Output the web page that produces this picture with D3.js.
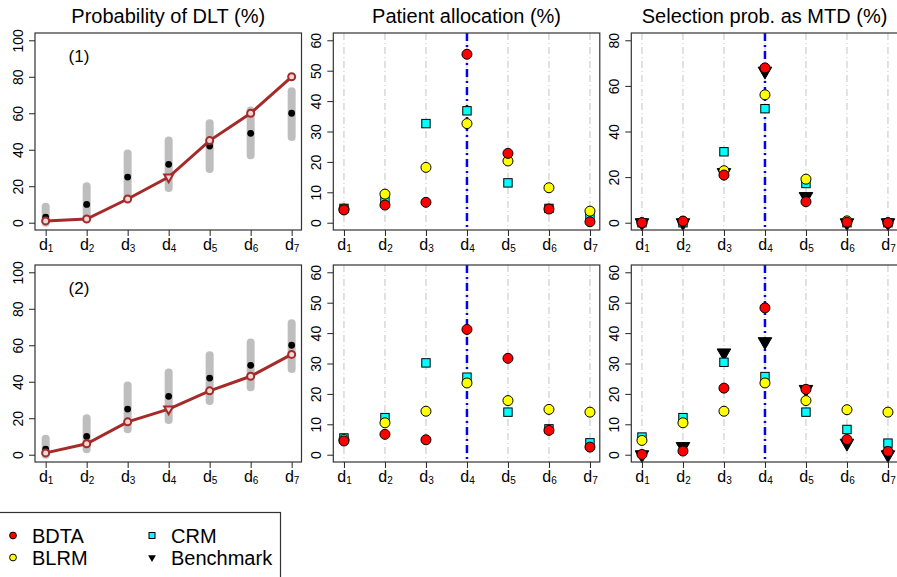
<!DOCTYPE html>
<html>
<head>
<meta charset="utf-8">
<script src="https://cdn.jsdelivr.net/npm/d3@7"></script>
<style>
body { margin: 0; background: #fff; }
svg { display: block; font-family: "Liberation Sans", Arial, Helvetica, sans-serif; }
</style>
</head>
<body>
<div id="chart"></div>
<script>
var width  = 897;
var height = 577;

// doses and target (MTD)
var doses      = [1, 2, 3, 4, 5, 6, 7];
var targetDose = 4;

// probability of DLT: prior intervals, prior point, true toxicity per scenario
var dltLow   = [0, 3, 14, 19, 29.5, 37, 47];
var dltHigh  = [8.7, 20, 38, 45, 54.5, 61.5, 72];
var dltPoint = [3, 10, 25, 32, 42, 49, 60];
var trueTox1 = [1, 2, 13, 25, 45, 60, 80];
var trueTox2 = [1, 6, 18, 25, 35, 43, 55];

// patient allocation (%)
var alloc1BDTA = [4.2, 5.8, 6.7, 55.4, 22.8, 4.5, 0.3];
var alloc1BLRM = [4.5, 9.4, 18.2, 32.6, 20.3, 11.5, 3.8];
var alloc1CRM  = [4.7, 7.4, 32.6, 36.8, 13.1, 4.7, 2.2];
var alloc2BDTA = [4.5, 6.7, 4.9, 41.2, 31.7, 8.0, 2.5];
var alloc2BLRM = [5.0, 10.5, 14.3, 23.6, 17.8, 14.9, 14.0];
var alloc2CRM  = [5.5, 12.2, 30.2, 25.5, 14.0, 8.5, 3.9];

// selection probability as MTD (%)
var sel1BDTA  = [0, 0.7, 20.9, 67.9, 9.2, 0.2, 0];
var sel1BLRM  = [0, 0.5, 22.8, 56.1, 19.1, 0.8, 0];
var sel1CRM   = [0, 0, 31.1, 50.0, 17.2, 0, 0];
var sel1Bench = [0, 0, 22.0, 66.5, 11.5, 0, 0];
var sel2BDTA  = [0.1, 1.2, 21.9, 48.3, 21.5, 5.0, 1.1];
var sel2BLRM  = [4.7, 10.5, 14.3, 23.6, 17.8, 14.8, 14.0];
var sel2CRM   = [5.8, 12.2, 30.4, 25.7, 14.0, 8.3, 3.8];
var sel2Bench = [0, 2.7, 33.5, 37.2, 21.5, 3.8, 0];

var titles      = ["Probability of DLT (%)", "Patient allocation (%)", "Selection prob. as MTD (%)"];
var scenarios   = ["(1)", "(2)"];
var dltTicks    = [0, 20, 40, 60, 80, 100];
var allocTicks  = [0, 10, 20, 30, 40, 50, 60];
var sel1Ticks   = [0, 20, 40, 60, 80];
var sel2Ticks   = [0, 10, 20, 30, 40, 50, 60];

var methods = ["BDTA", "BLRM", "CRM", "Benchmark"];
var fills   = {BDTA: "#ff0000", BLRM: "#ffff00", CRM: "#00ffff", Benchmark: "#000000"};

var panelLeft = [35, 333.3, 631.3];
var panelTop  = [33, 265];
var panelW = 266.5;
var panelH = 197;
var brown = "#a52a2a";

var svg = d3.select("#chart")
    .append("svg")
    .attr("width", width)
    .attr("height", height);

function makeX(col) {
    return d3.scaleLinear()
        .domain([0.74, 7.24])
        .range([panelLeft[col], panelLeft[col] + panelW]);
}

function makeY(row, max) {
    return d3.scaleLinear()
        .domain([-0.04 * max, 1.04 * max])
        .range([panelTop[row] + panelH, panelTop[row]]);
}

function drawFrame(g, x, y, ticks, row) {
    var xAxis = d3.axisBottom(x).tickValues(doses).tickSize(6).tickSizeOuter(0);
    var yAxis = d3.axisLeft(y).tickValues(ticks).tickSize(6).tickSizeOuter(0);

    var gx = g.append("g")
        .attr("transform", "translate(0," + (panelTop[row] + panelH) + ")")
        .call(xAxis);
    gx.select(".domain").remove();
    gx.selectAll(".tick line").attr("stroke", "#222");
    gx.selectAll(".tick text")
        .text(null)
        .attr("y", 20)
        .attr("dy", 0)
        .attr("fill", "#000")
        .attr("font-size", 16)
        .attr("font-family", null)
        .each(function(d) {
            var t = d3.select(this);
            t.append("tspan").text("d");
            t.append("tspan").attr("font-size", 10).attr("dy", 2).text(d);
        });

    var gy = g.append("g")
        .attr("transform", "translate(" + x.range()[0] + ",0)")
        .call(yAxis);
    gy.select(".domain").remove();
    gy.selectAll(".tick line").attr("stroke", "#222");
    gy.selectAll(".tick text")
        .attr("x", 0)
        .attr("dy", 0)
        .attr("fill", "#000")
        .attr("font-size", 14)
        .attr("font-family", null)
        .attr("text-anchor", "middle")
        .attr("transform", "translate(-12,0) rotate(-90)");

    g.append("rect")
        .attr("x", x.range()[0])
        .attr("y", panelTop[row])
        .attr("width", panelW)
        .attr("height", panelH)
        .attr("fill", "none")
        .attr("stroke", "#333")
        .attr("stroke-width", 1.2);
}

function drawGrid(g, x, row) {
    g.selectAll(".grid")
        .data(doses)
        .enter().append("line")
        .attr("x1", function(d) { return x(d); })
        .attr("x2", function(d) { return x(d); })
        .attr("y1", panelTop[row])
        .attr("y2", panelTop[row] + panelH)
        .attr("stroke", "#c4c4c4")
        .attr("stroke-width", 1)
        .attr("stroke-dasharray", "7,3,1,3");

    g.append("line")
        .attr("x1", x(targetDose))
        .attr("x2", x(targetDose))
        .attr("y1", panelTop[row])
        .attr("y2", panelTop[row] + panelH)
        .attr("stroke", "#0000ff")
        .attr("stroke-width", 2.5)
        .attr("stroke-dasharray", "8,4,2,4");
}

function drawMarkers(g, x, y, method, values) {
    var pts = values.map(function(v, i) { return {dose: doses[i], value: v}; });
    if (method === "CRM") {
        g.selectAll(".m" + method)
            .data(pts)
            .enter().append("rect")
            .attr("x", function(d) { return x(d.dose) - 4.2; })
            .attr("y", function(d) { return y(d.value) - 4.2; })
            .attr("width", 8.4)
            .attr("height", 8.4)
            .attr("fill", fills[method])
            .attr("stroke", "#000")
            .attr("stroke-width", 1);
    } else if (method === "Benchmark") {
        g.selectAll(".m" + method)
            .data(pts)
            .enter().append("path")
            .attr("d", d3.symbol(d3.symbolTriangle, 80))
            .attr("transform", function(d) { return "translate(" + x(d.dose) + "," + y(d.value) + ") rotate(180)"; })
            .attr("fill", "#000")
            .attr("stroke", "#000")
            .attr("stroke-width", 1);
    } else {
        g.selectAll(".m" + method)
            .data(pts)
            .enter().append("circle")
            .attr("cx", function(d) { return x(d.dose); })
            .attr("cy", function(d) { return y(d.value); })
            .attr("r", 5)
            .attr("fill", fills[method])
            .attr("stroke", "#000")
            .attr("stroke-width", 1);
    }
}

function drawDlt(row, trueTox) {
    var g = svg.append("g");
    var x = makeX(0);
    var y = makeY(row, 100);

    g.selectAll(".bar")
        .data(doses)
        .enter().append("line")
        .attr("x1", function(d) { return x(d); })
        .attr("x2", function(d) { return x(d); })
        .attr("y1", function(d, i) { return y(dltLow[i]); })
        .attr("y2", function(d, i) { return y(dltHigh[i]); })
        .attr("stroke", "#bebebe")
        .attr("stroke-width", 8)
        .attr("stroke-linecap", "round");

    g.selectAll(".pt")
        .data(doses)
        .enter().append("circle")
        .attr("cx", function(d) { return x(d); })
        .attr("cy", function(d, i) { return y(dltPoint[i]); })
        .attr("r", 3.4)
        .attr("fill", "#000");

    var line = d3.line()
        .x(function(d, i) { return x(doses[i]); })
        .y(function(d) { return y(d); });

    g.append("path")
        .attr("d", line(trueTox))
        .attr("fill", "none")
        .attr("stroke", brown)
        .attr("stroke-width", 3);

    g.selectAll(".tt")
        .data(doses.filter(function(d) { return d !== targetDose; }))
        .enter().append("circle")
        .attr("cx", function(d) { return x(d); })
        .attr("cy", function(d) { return y(trueTox[d - 1]); })
        .attr("r", 3.5)
        .attr("fill", "#f0d8d8")
        .attr("stroke", brown)
        .attr("stroke-width", 2);

    g.append("path")
        .attr("d", d3.symbol(d3.symbolTriangle, 34))
        .attr("transform", "translate(" + x(targetDose) + "," + y(trueTox[targetDose - 1]) + ") rotate(180)")
        .attr("fill", "#f0d8d8")
        .attr("stroke", brown)
        .attr("stroke-width", 2);

    g.append("text")
        .attr("x", 79)
        .attr("y", panelTop[row] + 29)
        .attr("text-anchor", "middle")
        .attr("font-size", 17)
        .text(scenarios[row]);

    drawFrame(g, x, y, dltTicks, row);
}

function drawPoints(row, col, max, ticks, series) {
    var g = svg.append("g");
    var x = makeX(col);
    var y = makeY(row, max);
    drawGrid(g, x, row);
    ["Benchmark", "CRM", "BLRM", "BDTA"].forEach(function(m) {
        if (series[m]) drawMarkers(g, x, y, m, series[m]);
    });
    drawFrame(g, x, y, ticks, row);
}

drawDlt(0, trueTox1);
drawDlt(1, trueTox2);
drawPoints(0, 1, 60, allocTicks, {BDTA: alloc1BDTA, BLRM: alloc1BLRM, CRM: alloc1CRM});
drawPoints(1, 1, 60, allocTicks, {BDTA: alloc2BDTA, BLRM: alloc2BLRM, CRM: alloc2CRM});
drawPoints(0, 2, 80, sel1Ticks, {BDTA: sel1BDTA, BLRM: sel1BLRM, CRM: sel1CRM, Benchmark: sel1Bench});
drawPoints(1, 2, 60, sel2Ticks, {BDTA: sel2BDTA, BLRM: sel2BLRM, CRM: sel2CRM, Benchmark: sel2Bench});

// titles
svg.selectAll(".title")
    .data(titles)
    .enter().append("text")
    .attr("x", function(d, i) { return panelLeft[i] + panelW / 2; })
    .attr("y", 23)
    .attr("text-anchor", "middle")
    .attr("font-size", 20)
    .text(function(d) { return d; });

// legend
var legend = svg.append("g");
legend.append("rect")
    .attr("x", -5)
    .attr("y", 512.5)
    .attr("width", 285.5)
    .attr("height", 80)
    .attr("fill", "none")
    .attr("stroke", "#333")
    .attr("stroke-width", 1.2);

var legX = [13, 152];
var legY = [535.5, 557.5];
methods.forEach(function(m, i) {
    var cx = legX[Math.floor(i / 2)];
    var cy = legY[i % 2];
    if (m === "CRM") {
        legend.append("rect")
            .attr("x", cx - 3).attr("y", cy - 3)
            .attr("width", 6).attr("height", 6)
            .attr("fill", fills[m]).attr("stroke", "#000");
    } else if (m === "Benchmark") {
        legend.append("path")
            .attr("d", d3.symbol(d3.symbolTriangle, 26))
            .attr("transform", "translate(" + cx + "," + cy + ") rotate(180)")
            .attr("fill", "#000");
    } else {
        legend.append("circle")
            .attr("cx", cx).attr("cy", cy).attr("r", 3.4)
            .attr("fill", fills[m]).attr("stroke", "#000");
    }
    legend.append("text")
        .attr("x", cx + 19)
        .attr("y", cy + 7.5)
        .attr("font-size", 20)
        .text(m);
});
</script>
</body>
</html>
